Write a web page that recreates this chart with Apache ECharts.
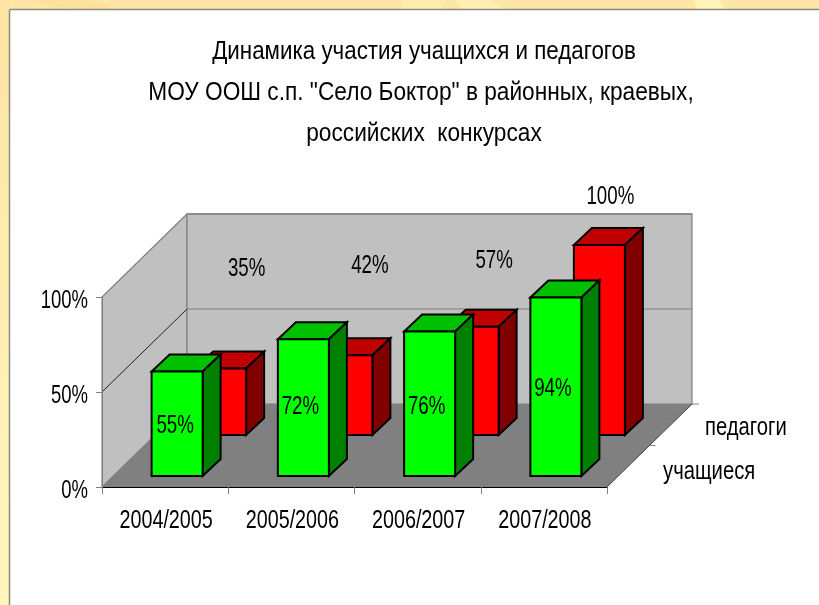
<!DOCTYPE html>
<html>
<head>
<meta charset="utf-8">
<style>html,body{margin:0;padding:0;background:#fff}#c{width:819px;height:605px}</style>
<script src="https://cdn.jsdelivr.net/npm/echarts@6/dist/echarts.min.js"></script>
</head>
<body>
<div id="c"></div>
<script>
var categories = ['2004/2005', '2005/2006', '2006/2007', '2007/2008'];
var seriesNames = ['учащиеся', 'педагоги'];
var students = [55, 72, 76, 94];
var teachers = [35, 42, 57, 100];
var yTicks = [0, 50, 100];
var titleLines = ['Динамика участия учащихся и педагогов', 'МОУ ООШ с.п. "Село Боктор" в районных, краевых,', 'российских  конкурсах'];

// layout constants of the oblique projection
var FONT = '"Liberation Sans",sans-serif';
var DEPTH = [85, -83];            // floor depth in pixels
var BAR_W = 51;
var BAR_D = [18, -17];            // depth of a single bar
var ROW_SHIFT = [[12, -11], [55.5, -52]];  // front of each bar row
var LABEL_SHIFT = [
  [[-2, 54], [-3, 68], [-3, 75], [-3, 91]],       // students: label centre vs. top-front centre of bar
  [[26, -100], [23, -89], [21, -66], [11, -48]]  // teachers
];
var C = {
  wall: '#c0c0c0', wallLine: '#808080', floor: '#808080',
  g: ['#00ff00', '#00c000', '#008000'],
  r: ['#ff0000', '#c00000', '#800000']
};

function poly(pts, fill, stroke, lw) {
  return {type: 'polygon', shape: {points: pts}, style: {fill: fill, stroke: stroke || null, lineWidth: lw || 0, lineJoin: 'miter'}};
}
function line(a, b, color, lw) {
  return {type: 'line', shape: {x1: a[0], y1: a[1], x2: b[0], y2: b[1]}, style: {stroke: color, lineWidth: lw || 1}};
}
function sh(p, d) { return [p[0] + d[0], p[1] + d[1]]; }
// real text, squeezed horizontally like the narrow face of the reference
function label(text, x, y, scale, align, size) {
  return {
    type: 'text', x: x, y: y, scaleX: scale, scaleY: 1, silent: true,
    style: {x: 0, y: 0, text: text, fill: '#000', font: (size || 25) + 'px ' + FONT, align: align || 'center', verticalAlign: 'middle'}
  };
}

function renderScene(params, api) {
  var n = categories.length;
  var o = api.coord([0, 0]);
  var catW = api.size([1, 0])[0];
  var x0 = o[0] - catW / 2;
  var x1 = x0 + catW * n;
  var yBase = o[1];
  var yPos = function (v) { return api.coord([0, v])[1]; };
  var yTop = yPos(yTicks[yTicks.length - 1]);
  var ch = [];
  var bl = [x0, yBase], tl = [x0, yTop], br = [x1, yBase], tr = [x1, yTop];
  // left wall, back wall, floor
  ch.push(poly([bl, tl, sh(tl, DEPTH), sh(bl, DEPTH)], C.wall, C.wallLine, 1.2));
  ch.push(poly([sh(bl, DEPTH), sh(tl, DEPTH), sh(tr, DEPTH), sh(br, DEPTH)], C.wall, C.wallLine, 1.2));
  ch.push(poly([bl, sh(bl, DEPTH), sh(br, DEPTH), br], C.floor));
  // gridlines
  yTicks.slice(1, -1).forEach(function (t) {
    var p = [x0, yPos(t)];
    ch.push(line(p, sh(p, DEPTH), '#202020', 1));
    ch.push(line(sh(p, DEPTH), [x1 + DEPTH[0], p[1] + DEPTH[1]], C.wallLine, 1.2));
  });
  ch.push(line(sh(tl, DEPTH), sh(tr, DEPTH), C.wallLine, 1.5));
  // depth axis edge and its ticks
  ch.push(line(br, sh(br, DEPTH), '#404040', 1));
  ch.push(line([br[0] + DEPTH[0] / 2, yBase + DEPTH[1] / 2], [br[0] + DEPTH[0] / 2 + 6, yBase + DEPTH[1] / 2], '#808080', 1));
  ch.push(line(sh(br, DEPTH), [br[0] + DEPTH[0] + 7, yBase + DEPTH[1]], '#808080', 1));
  // bars, back row first
  [1, 0].forEach(function (row) {
    var vals = row ? teachers : students;
    var col = row ? C.r : C.g;
    vals.forEach(function (v, i) {
      var cx = api.coord([i, 0])[0] + ROW_SHIFT[row][0];
      var by = yBase + ROW_SHIFT[row][1];
      var ty = yPos(v) + ROW_SHIFT[row][1];
      var a = [cx - BAR_W / 2, by], b = [cx + BAR_W / 2, by];
      var c = [cx + BAR_W / 2, ty], d = [cx - BAR_W / 2, ty];
      ch.push(poly([d, c, sh(c, BAR_D), sh(d, BAR_D)], col[1], '#000', 2));
      ch.push(poly([b, c, sh(c, BAR_D), sh(b, BAR_D)], col[2], '#000', 2));
      ch.push(poly([a, b, c, d], col[0], '#000', 2));
    });
  });
  // data labels
  [1, 0].forEach(function (row) {
    var vals = row ? teachers : students;
    vals.forEach(function (v, i) {
      var cx = api.coord([i, 0])[0] + ROW_SHIFT[row][0] + LABEL_SHIFT[row][i][0];
      var cy = yPos(v) + ROW_SHIFT[row][1] + LABEL_SHIFT[row][i][1];
      ch.push(label(v + '%', cx, cy, 0.72, 'center', 26));
    });
  });
  // axis labels (squeezed, so they are placed through the axis scales here)
  categories.forEach(function (name, i) {
    ch.push(label(name, api.coord([i, 0])[0] + 1, yBase + 34, 0.79));
  });
  yTicks.forEach(function (t) {
    ch.push(label(t + '%', x0 - 14, yPos(t) + 4, 0.74, 'right'));
  });
  // depth axis names
  ch.push(label(seriesNames[1], x1 + 98, yBase - 59, 0.81, 'left'));
  ch.push(label(seriesNames[0], x1 + 56, yBase - 15, 0.81, 'left'));
  return {type: 'group', children: ch};
}

var rays = [
  [[25, 0], [85, 0], [120, 9], [70, 9]],
  [[402, 0], [438, 0], [444, 9], [402, 9]],
  [[455, 0], [490, 0], [505, 9], [462, 9]],
  [[694, 0], [720, 0], [724, 9], [698, 9]]
];
function titleText(i, cx, scale) {
  return {
    type: 'text', z: 10, silent: true, x: cx, y: 52 + i * 41, scaleX: scale,
    style: {x: 0, y: 0, text: titleLines[i], fill: '#000', font: '26px ' + FONT, align: 'center', verticalAlign: 'middle'}
  };
}

var chart = echarts.init(document.getElementById('c'), null, {renderer: 'canvas'});
chart.setOption({
  animation: false,
  backgroundColor: '#ffffff',
  graphic: [
    {type: 'rect', z: -10, silent: true, shape: {x: 0, y: 0, width: 819, height: 9}, style: {fill: '#fde6a6'}},
    {type: 'rect', z: -10, silent: true, shape: {x: 0, y: 0, width: 9, height: 605},
      style: {fill: new echarts.graphic.LinearGradient(0, 0, 0, 1, [{offset: 0, color: '#fde4a4'}, {offset: 1, color: '#fff6bc'}])}},
    {type: 'polygon', z: -9, silent: true, shape: {points: rays[0]}, style: {fill: '#fbe09e'}},
    {type: 'polygon', z: -9, silent: true, shape: {points: rays[1]}, style: {fill: '#ffedb0'}},
    {type: 'polygon', z: -9, silent: true, shape: {points: rays[2]}, style: {fill: '#ffefb2'}},
    {type: 'polygon', z: -9, silent: true, shape: {points: rays[3]}, style: {fill: '#fff4ba'}},
    {type: 'line', z: -8, silent: true, shape: {x1: 9.5, y1: 9.5, x2: 819, y2: 9.5}, style: {stroke: '#8c8c7c', lineWidth: 1.5}},
    {type: 'line', z: -8, silent: true, shape: {x1: 9.5, y1: 9.5, x2: 9.5, y2: 605}, style: {stroke: '#8c8c7c', lineWidth: 1.5}},
    titleText(0, 424, 0.86), titleText(1, 421, 0.872), titleText(2, 424, 0.872)
  ],
  grid: {left: 102, top: 297, width: 505, height: 190},
  xAxis: {
    type: 'category', data: categories,
    axisLine: {show: true, lineStyle: {color: '#000', width: 1}},
    axisTick: {show: true, interval: 0, length: 7, alignWithLabel: false, lineStyle: {color: '#808080'}},
    axisLabel: {show: false},
    z: 5
  },
  yAxis: {
    type: 'value', min: 0, max: 100, interval: 50,
    axisLine: {show: true, lineStyle: {color: '#808080', width: 1}},
    axisTick: {show: true, length: 6, lineStyle: {color: '#808080'}},
    axisLabel: {show: false},
    splitLine: {show: false},
    z: 5
  },
  series: [{
    type: 'custom',
    coordinateSystem: 'cartesian2d',
    clip: false,
    silent: true,
    renderItem: renderScene,
    data: [[0, 0]],
    encode: {x: 0, y: 1},
    z: 3
  }]
});
</script>
</body>
</html>
